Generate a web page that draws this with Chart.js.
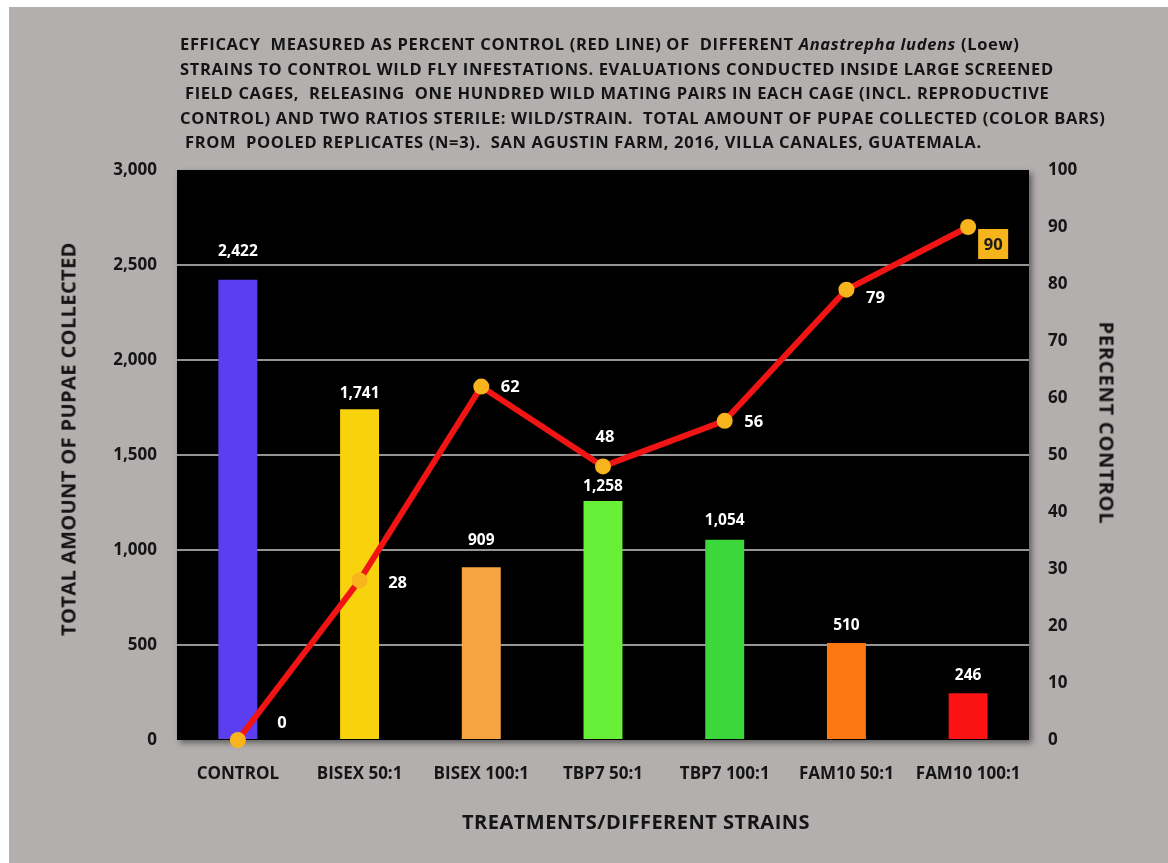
<!DOCTYPE html>
<html>
<head>
<meta charset="utf-8">
<script src="https://cdn.jsdelivr.net/npm/chart.js@4.4.1/dist/chart.umd.min.js"></script>
<style>
  body { margin: 0; background: #fff; font-family: "Open Sans", sans-serif; }
  #wrap { position: relative; width: 1168px; height: 863px; overflow: hidden; }
  #bg { position: absolute; left: 9px; top: 7px; right: 0; bottom: 0; background: #b2afae; }
  canvas { position: absolute; left: 0; top: 0; }
  .t { position: absolute; color: #141414; font-weight: 700; white-space: pre; }
  #title { left: 180px; top: 32px; font-size: 16.5px; line-height: 24.5px; letter-spacing: 0.65px; }
  #xtitle { left: 636px; top: 821px; transform: translate(-50%, -50%); font-size: 20px; letter-spacing: 0.5px; }
  #ytitle { left: 68px; top: 439px; transform: translate(-50%, -50%) rotate(-90deg); font-size: 20px; letter-spacing: 0.4px; }
  #y2title { left: 1107px; top: 423px; transform: translate(-50%, -50%) rotate(90deg); font-size: 20px; letter-spacing: 0.8px; }
</style>
</head>
<body>
<div id="wrap">
  <div id="bg"></div>
  <canvas id="chart" width="1168" height="863"></canvas>
  <div class="t" id="title">EFFICACY  MEASURED AS PERCENT CONTROL (RED LINE) OF  DIFFERENT <i>Anastrepha ludens</i> (Loew)
STRAINS TO CONTROL WILD FLY INFESTATIONS. EVALUATIONS CONDUCTED INSIDE LARGE SCREENED
 FIELD CAGES,  RELEASING  ONE HUNDRED WILD MATING PAIRS IN EACH CAGE (INCL. REPRODUCTIVE
CONTROL) AND TWO RATIOS STERILE: WILD/STRAIN.  TOTAL AMOUNT OF PUPAE COLLECTED (COLOR BARS)
 FROM  POOLED REPLICATES (N=3).  SAN AGUSTIN FARM, 2016, VILLA CANALES, GUATEMALA.</div>
  <div class="t" id="xtitle">TREATMENTS/DIFFERENT STRAINS</div>
  <div class="t" id="ytitle">TOTAL AMOUNT OF PUPAE COLLECTED</div>
  <div class="t" id="y2title">PERCENT CONTROL</div>
</div>
<script>
// data
const categories = ["CONTROL", "BISEX 50:1", "BISEX 100:1", "TBP7 50:1", "TBP7 100:1", "FAM10 50:1", "FAM10 100:1"];
const pupae = [2422, 1741, 909, 1258, 1054, 510, 246];
const percentControl = [0, 28, 62, 48, 56, 79, 90];
const barColors = ['#5a3ef0', '#f8d20c', '#f7a443', '#68ef38', '#3cd73a', '#fd7812', '#fb1212'];
const pupaeMax = 3000, pupaeStep = 500;
const pctMax = 100, pctStep = 10;

// label placement (like the hand-placed labels in the original)
const barLabelGap = [28, 16, 27, 14, 19, 18, 18];
const lineLabelOffset = [[44, -18], [38, 2], [29, 0], [2, -30], [29, 0], [29, 8], [25, 17]];

const plotBg = {
    id: 'plotBg',
    beforeDraw(chart) {
        const { ctx, chartArea: a } = chart;
        ctx.save();
        ctx.shadowColor = 'rgba(0,0,0,0.45)';
        ctx.shadowBlur = 6;
        ctx.shadowOffsetX = 3;
        ctx.shadowOffsetY = 3;
        ctx.fillStyle = '#000';
        ctx.fillRect(a.left, a.top, a.right - a.left, a.bottom - a.top);
        ctx.restore();
    }
};

const valueLabels = {
    id: 'valueLabels',
    afterDatasetsDraw(chart) {
        const ctx = chart.ctx;
        ctx.save();
        ctx.textAlign = 'center';
        ctx.textBaseline = 'middle';
        ctx.font = 'bold 15.5px "Open Sans"';
        ctx.fillStyle = '#fff';
        chart.getDatasetMeta(0).data.forEach((bar, i) => {
            ctx.fillText(pupae[i].toLocaleString('en-US'), bar.x, bar.y - barLabelGap[i]);
        });
        ctx.font = 'bold 16.5px "Open Sans"';
        chart.getDatasetMeta(1).data.forEach((pt, i) => {
            const x = pt.x + lineLabelOffset[i][0];
            const y = pt.y + lineLabelOffset[i][1];
            if (i === percentControl.length - 1) {
                ctx.fillStyle = '#f7b51c';
                ctx.fillRect(x - 15, y - 15, 30, 30);
                ctx.fillStyle = '#1a1a1a';
            } else {
                ctx.fillStyle = '#fff';
            }
            ctx.fillText(String(percentControl[i]), x, y + 1);
        });
        ctx.restore();
    }
};

const tickFont = { family: 'Open Sans', size: 17, weight: 'bold' };

new Chart(document.getElementById('chart'), {
    data: {
        labels: categories,
        datasets: [
            {
                type: 'bar',
                label: 'Pupae collected',
                data: pupae,
                backgroundColor: barColors,
                yAxisID: 'y',
                order: 2,
                barPercentage: 0.32,
                categoryPercentage: 1
            },
            {
                type: 'line',
                label: 'Percent control',
                data: percentControl,
                yAxisID: 'y1',
                order: 1,
                borderColor: '#f01414',
                borderWidth: 6,
                pointRadius: 8,
                pointBackgroundColor: '#f8b41c',
                pointBorderWidth: 0,
                tension: 0,
                clip: false
            }
        ]
    },
    options: {
        responsive: false,
        animation: false,
        layout: { padding: { top: 170, left: 0, right: 0, bottom: 0 } },
        plugins: {
            legend: { display: false },
            tooltip: { enabled: false }
        },
        scales: {
            x: {
                grid: { display: false },
                border: { display: false },
                ticks: { color: '#151515', font: tickFont, padding: 16 },
                afterFit(scale) { scale.height = 123; }
            },
            y: {
                position: 'left',
                min: 0,
                max: pupaeMax,
                ticks: { stepSize: pupaeStep, color: '#151515', font: tickFont, padding: 20 },
                grid: {
                    drawTicks: false,
                    lineWidth: 2,
                    color: (c) => (c.tick && (c.tick.value === 0 || c.tick.value === pupaeMax)) ? 'rgba(0,0,0,0)' : '#959595'
                },
                border: { display: false },
                afterFit(scale) { scale.width = 177; }
            },
            y1: {
                position: 'right',
                min: 0,
                max: pctMax,
                ticks: { stepSize: pctStep, color: '#151515', font: tickFont, padding: 19 },
                grid: { display: false, drawTicks: false },
                border: { display: false },
                afterFit(scale) { scale.width = 139; }
            }
        }
    },
    plugins: [plotBg, valueLabels]
});
</script>
</body>
</html>
